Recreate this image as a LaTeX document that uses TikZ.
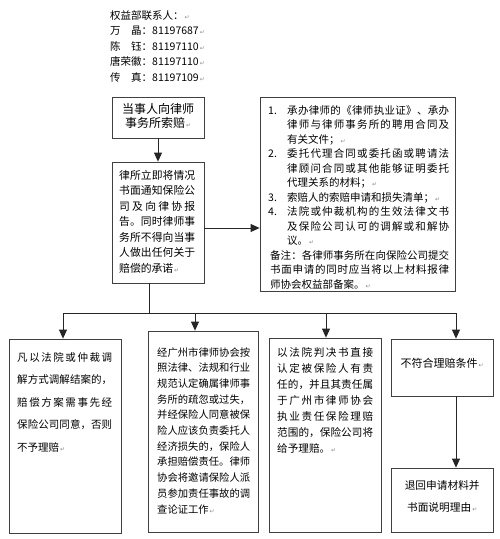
\documentclass[tikz,border=0pt]{standalone}
\usepackage{fontspec}
\setmainfont{Noto Sans CJK SC}
\newfontfamily\dejavu{DejaVu Sans}
\usetikzlibrary{arrows.meta}
\makeatletter
\def\spr@#1#2{#1\ifx\relax#2\else\hfil\expandafter\spr@\expandafter#2\fi}
\newcommand\spreadto[2]{\makebox[#1][s]{\spr@#2\relax}}
\makeatother
\newcommand\pmark{\hspace{1pt}{\dejavu\fontsize{6}{6}\selectfont\color{black!45}↵}}
\newcommand\blk[4]{\vtop{\fontsize{#1}{#2}\selectfont\hsize=#3\relax
  \lineskiplimit=-100pt\lineskip=0pt\parindent=0pt\parskip=0pt
  \leftskip=0pt\rightskip=0pt\parfillskip=0pt plus 1fil\relax #4}}
\begin{document}
\begin{tikzpicture}[x=1pt,y=-1pt,
  box/.style={draw=black!75, line width=0.8pt, inner sep=0pt},
  txt/.style={inner sep=0pt, anchor=base west},
  link/.style={draw=black!85, line width=0.8pt},
  arr/.style={link, -{Triangle[width=8pt,length=9pt]}}]
\useasboundingbox (0,0) rectangle (500,539);
\fill[white] (0,0) rectangle (500,539);

% boxes
\node[box, minimum width=92pt, minimum height=41pt] (A) at (158,117.5) {};
\node[box, minimum width=92pt, minimum height=121pt] (B) at (158,222.5) {};
\node[box, minimum width=195pt, minimum height=194pt] (C) at (357.5,194) {};
\node[box, minimum width=112pt, minimum height=194pt] (E) at (65,436) {};
\node[box, minimum width=110pt, minimum height=201pt] (F) at (203,431.5) {};
\node[box, minimum width=112pt, minimum height=194pt] (G) at (325,435) {};
\node[box, minimum width=102pt, minimum height=57pt] (H) at (442,367.5) {};
\node[box, minimum width=102pt, minimum height=64pt] (I) at (442,500) {};

% contacts
\node[txt] (contacts) at (110,19) {\blk{10.5pt}{15.5pt}{150pt}{%
权益部联系人：\pmark\par
\makebox[3em][s]{万\hfil 晶}：81197687\pmark\par
\makebox[3em][s]{陈\hfil 钰}：81197110\pmark\par
唐荣徽：81197110\pmark\par
\makebox[3em][s]{传\hfil 真}：81197109\pmark}};

% texts
\node[txt] (Atext) at (112,113.6) {\blk{12pt}{14pt}{92pt}{\centering
当事人向律师\par 事务所索赔\pmark}};

\node[txt] (Btext) at (119,179.1) {\blk{10.8pt}{15.5pt}{76pt}{%
\spreadto{76pt}{律所立即将情况}\par
\spreadto{76pt}{书面通知保险公}\par
\spreadto{76pt}{司及向律协报}\par
\spreadto{76pt}{告。同时律师事}\par
\spreadto{76pt}{务所不得向当事}\par
\spreadto{76pt}{人做出任何关于}\par
赔偿的承诺\pmark}};

\node[txt] (Ctext) at (268,114) {\blk{10.5pt}{14.5pt}{181pt}{%
\makebox[19pt][l]{1.}\spreadto{162pt}{承办律师的《律师执业证》、承办}\par
\hspace*{19pt}\spreadto{162pt}{律师与律师事务所的聘用合同及}\par
\hspace*{19pt}有关文件；\pmark\par
\makebox[19pt][l]{2.}\spreadto{162pt}{委托代理合同或委托函或聘请法}\par
\hspace*{19pt}\spreadto{162pt}{律顾问合同或其他能够证明委托}\par
\hspace*{19pt}代理关系的材料；\pmark\par
\makebox[19pt][l]{3.}索赔人的索赔申请和损失清单；\pmark\par
\makebox[19pt][l]{4.}\spreadto{162pt}{法院或仲裁机构的生效法律文书}\par
\hspace*{19pt}\spreadto{162pt}{及保险公司认可的调解或和解协}\par
\hspace*{19pt}议。\pmark\par
\hspace*{2pt}\spreadto{179pt}{备注：各律师事务所在向保险公司提交}\par
\hspace*{2pt}\spreadto{179pt}{书面申请的同时应当将以上材料报律}\par
\hspace*{2pt}师协会权益部备案。\pmark}};

\node[txt] (Etext) at (17,361) {\blk{10.5pt}{22.5pt}{95pt}{%
\spreadto{95pt}{凡以法院或仲裁调}\par
\spreadto{95pt}{解方式调解结案的，}\par
\spreadto{95pt}{赔偿方案需事先经}\par
\spreadto{95pt}{保险公司同意，否则}\par
不予理赔\pmark}};

\node[txt] (Ftext) at (157,356) {\blk{10.3pt}{15.7pt}{93pt}{%
\spreadto{93pt}{经广州市律师协会按}\par
\spreadto{93pt}{照法律、法规和行业}\par
\spreadto{93pt}{规范认定确属律师事}\par
\spreadto{93pt}{务所的疏忽或过失，}\par
\spreadto{93pt}{并经保险人同意被保}\par
\spreadto{93pt}{险人应该负责委托人}\par
\spreadto{93pt}{经济损失的，保险人}\par
\spreadto{93pt}{承担赔偿责任。律师}\par
\spreadto{93pt}{协会将邀请保险人派}\par
\spreadto{93pt}{员参加责任事故的调}\par
查论证工作\pmark}};

\node[txt] (Gtext) at (277,356) {\blk{10.6pt}{16pt}{96pt}{%
\spreadto{96pt}{以法院判决书直接}\par
\spreadto{96pt}{认定被保险人有责}\par
\spreadto{96pt}{任的，并且其责任属}\par
\spreadto{96pt}{于广州市律师协会}\par
\spreadto{96pt}{执业责任保险理赔}\par
\spreadto{96pt}{范围的，保险公司将}\par
给予理赔。\pmark}};

\node[txt] (Htext) at (391,367.2) {\blk{11pt}{14pt}{102pt}{\centering
不符合理赔条件\pmark}};

\node[txt] (Itext) at (391,489) {\blk{10.7pt}{22pt}{102pt}{\centering
退回申请材料并\par 书面说明理由\pmark}};

% connectors
\draw[arr] (A) -- (B);
\draw[arr] ([yshift=-5.5pt]B.east) -- ([yshift=-5.5pt]B.east -| C.west);
\coordinate (bus) at (149,313);
\coordinate (jE) at (63,313);
\coordinate (jF) at (195,313);
\coordinate (jG) at (326,313);
\coordinate (jH) at (456,313);
\draw[link] (B.south -| bus) -- (bus);
\draw[link] (jE) -- (jH);
\draw[arr] (jE) -- (jE |- E.north);
\draw[arr] (jF) -- (jF |- F.north);
\draw[arr] (jG) -- (jG |- G.north);
\draw[arr] (jH) -- (jH |- H.north);
\draw[arr] (H.south -| jH) -- (jH |- I.north);
\end{tikzpicture}
\end{document}
